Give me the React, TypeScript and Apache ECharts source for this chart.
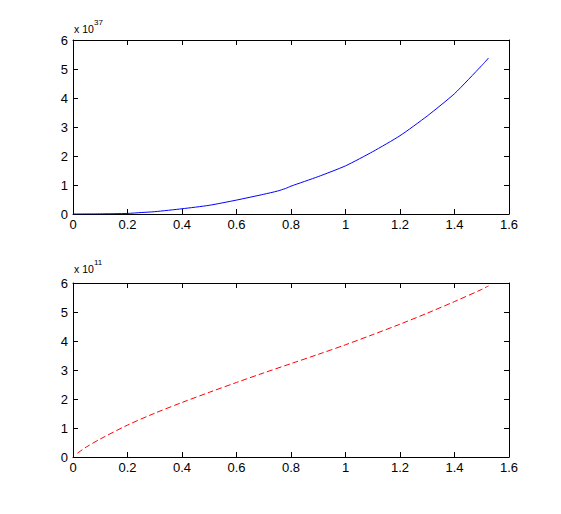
import React, { useEffect, useRef } from "react";
import * as echarts from "echarts";

// x positions (shared axis range 0..1.6)
const topX = [0, 0.1, 0.2, 0.25, 0.3, 0.4, 0.5, 0.6, 0.7, 0.75, 0.78, 0.8, 0.9, 1.0, 1.1, 1.2, 1.3, 1.4, 1.5, 1.525];
// top series values, in units of 1e37
const topY = [0, 0.005, 0.02, 0.05, 0.08, 0.18, 0.3, 0.48, 0.68, 0.79, 0.88, 0.96, 1.29, 1.66, 2.15, 2.7, 3.38, 4.15, 5.12, 5.38];

const bottomX = [0.016, 0.05, 0.1, 0.2, 0.3, 0.4, 0.5, 0.6, 0.7, 0.8, 0.9, 1.0, 1.1, 1.2, 1.3, 1.4, 1.5, 1.525];
// bottom series values, in units of 1e11
const bottomY = [0.13, 0.35, 0.62, 1.1, 1.51, 1.88, 2.23, 2.57, 2.9, 3.22, 3.54, 3.87, 4.22, 4.58, 4.96, 5.36, 5.78, 5.9];

const xTicks = { min: 0, max: 1.6, interval: 0.2 };
const yTicks = { min: 0, max: 6, interval: 1 };
const topExponent = "37";
const bottomExponent = "11";

const FONT = "'Liberation Sans', Arial, Helvetica, sans-serif";

export default function App() {
  const ref = useRef<HTMLDivElement>(null);
  useEffect(() => {
    document.body.style.margin = "0";
    if (!ref.current) return;
    const chart = echarts.init(ref.current, null, { renderer: "svg" });

    const grids = [
      { left: 73, top: 40, width: 436, height: 174 },
      { left: 73, top: 283, width: 436, height: 174 },
    ];

    const mkX = (gridIndex: number, position: "bottom" | "top", labels: boolean) => ({
      type: "value",
      gridIndex,
      position,
      min: xTicks.min,
      max: xTicks.max,
      interval: xTicks.interval,
      axisLine: { show: true, onZero: false, lineStyle: { color: "#000", width: 1 } },
      axisTick: { show: true, inside: true, length: 5, lineStyle: { color: "#000" } },
      axisLabel: { show: labels, color: "#000", fontSize: 13, fontFamily: FONT, margin: 4 },
      splitLine: { show: false },
    });
    const mkY = (gridIndex: number, position: "left" | "right", labels: boolean) => ({
      type: "value",
      gridIndex,
      position,
      min: yTicks.min,
      max: yTicks.max,
      interval: yTicks.interval,
      axisLine: { show: true, onZero: false, lineStyle: { color: "#000", width: 1 } },
      axisTick: { show: true, inside: true, length: 5, lineStyle: { color: "#000" } },
      axisLabel: { show: labels, color: "#000", fontSize: 13, fontFamily: FONT, margin: 5 },
      splitLine: { show: false },
    });

    const expLabel = (x: number, baseline: number, exp: string) => [
      {
        type: "text",
        left: x,
        top: baseline - 10,
        style: { text: "x 10", fontSize: 10.5, fontFamily: FONT, fill: "#000" },
      },
      {
        type: "text",
        left: x + 20,
        top: baseline - 15,
        style: { text: exp, fontSize: 8, fontFamily: FONT, fill: "#000" },
      },
    ];

    chart.setOption({
      animation: false,
      backgroundColor: "#fff",
      grid: grids,
      xAxis: [mkX(0, "bottom", true), mkX(0, "top", false), mkX(1, "bottom", true), mkX(1, "top", false)],
      yAxis: [mkY(0, "left", true), mkY(0, "right", false), mkY(1, "left", true), mkY(1, "right", false)],
      series: [
        {
          type: "line",
          xAxisIndex: 0,
          yAxisIndex: 0,
          data: topX.map((x, i) => [x, topY[i]]),
          showSymbol: false,
          smooth: 0.2,
          lineStyle: { color: "#0000ff", width: 1 },
          itemStyle: { color: "#0000ff" },
        },
        {
          type: "line",
          xAxisIndex: 2,
          yAxisIndex: 2,
          data: bottomX.map((x, i) => [x, bottomY[i]]),
          showSymbol: false,
          smooth: 0.3,
          lineStyle: { color: "#ff0000", width: 1, type: [6, 3] },
          itemStyle: { color: "#ff0000" },
        },
      ],
      graphic: [...expLabel(74, 33, topExponent), ...expLabel(74, 273, bottomExponent)],
    });
    return () => chart.dispose();
  }, []);
  return <div ref={ref} style={{ width: 561, height: 514 }} />;
}
